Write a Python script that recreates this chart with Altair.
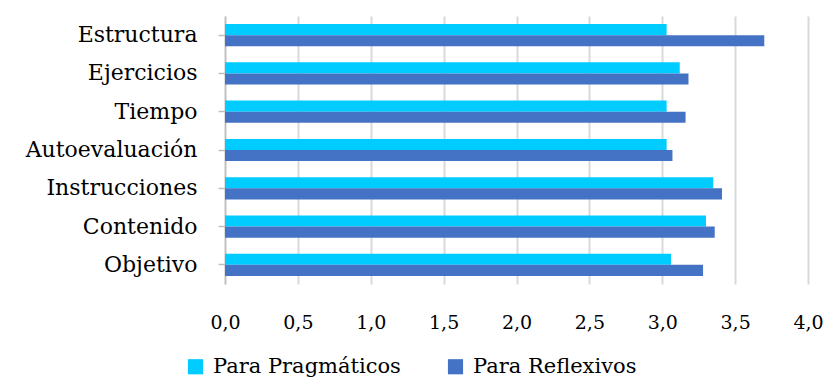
import altair as alt
import pandas as pd

categorias = ["Estructura", "Ejercicios", "Tiempo", "Autoevaluación", "Instrucciones", "Contenido", "Objetivo"]
pragmaticos = [3.03, 3.12, 3.03, 3.03, 3.35, 3.30, 3.06]
reflexivos = [3.70, 3.18, 3.16, 3.07, 3.41, 3.36, 3.28]
series = ["Para Pragmáticos", "Para Reflexivos"]
colores = ["#00CCFF", "#4472C4"]
ticks_x = [0, 0.5, 1.0, 1.5, 2.0, 2.5, 3.0, 3.5, 4.0]

rows = []
for c, p, r in zip(categorias, pragmaticos, reflexivos):
    rows.append({"Categoria": c, "Serie": series[0], "Valor": p})
    rows.append({"Categoria": c, "Serie": series[1], "Valor": r})
df = pd.DataFrame(rows)

FONT = "DejaVu Serif"

chart = alt.Chart(df).mark_bar().encode(
    y=alt.Y("Categoria:N", sort=categorias,
            scale=alt.Scale(paddingInner=0.42, paddingOuter=0.21),
            axis=alt.Axis(title=None, labelFont=FONT, labelFontSize=22, labelColor="#000000",
                          domainColor="#BFBFBF", domainWidth=1.5, tickColor="#BFBFBF", tickSize=7,
                          tickWidth=1.5, labelPadding=21, grid=False, labelLimit=0)),
    yOffset=alt.YOffset("Serie:N", sort=series, scale=alt.Scale(paddingInner=0, paddingOuter=0)),
    x=alt.X("Valor:Q", scale=alt.Scale(domain=[0, 4], nice=False),
            axis=alt.Axis(title=None, values=ticks_x, labelFont=FONT, labelFontSize=19,
                          labelColor="#000000", domain=False, ticks=False, labelPadding=29,
                          labelFlush=False, gridColor="#D9D9D9", gridWidth=2,
                          labelExpr="replace(format(datum.value, '.1f'), '.', ',')")),
    color=alt.Color("Serie:N", sort=series, scale=alt.Scale(domain=series, range=colores),
                    legend=alt.Legend(title=None, orient="none", legendX=-40, legendY=340,
                                      direction="horizontal", symbolType="square", symbolSize=230,
                                      symbolStrokeWidth=0, labelFont=FONT, labelFontSize=21,
                                      labelColor="#000000", columnPadding=44, labelOffset=7,
                                      labelLimit=0)),
).properties(
    width=583, height=268,
    autosize=alt.AutoSizeParams(type="none"),
    padding={"left": 217, "top": 8, "right": 15, "bottom": 95},
).configure_view(stroke=None)

chart.save("out.html", embed_options={"renderer": "svg", "actions": False})
